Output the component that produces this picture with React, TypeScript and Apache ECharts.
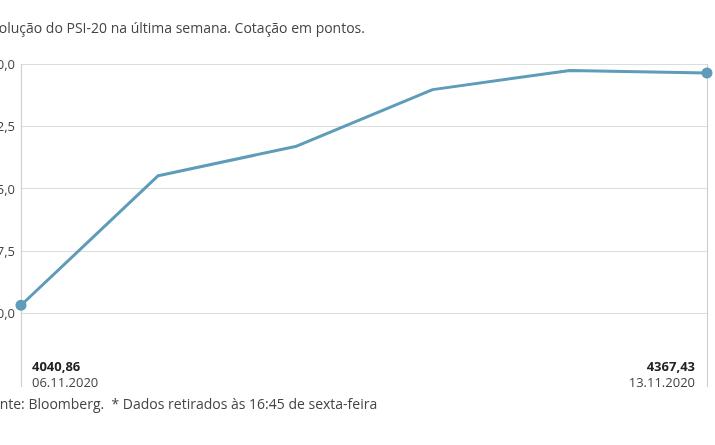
import * as echarts from 'echarts';
import { useEffect, useRef } from 'react';

const dates = ['06.11.2020', '09.11.2020', '10.11.2020', '11.11.2020', '12.11.2020', '13.11.2020'];
const values = [4040.86, 4223, 4264, 4344, 4371, 4367.43];
const yTicks = [4030, 4117.5, 4205, 4292.5, 4380];

const TITLE = 'Evolução do PSI-20 na última semana. Cotação em pontos.';
const SOURCE = 'Fonte: Bloomberg.  * Dados retirados às 16:45 de sexta-feira';

const LINE = '#5e9cb9';
const FONT = '"Open Sans", sans-serif';

const fmt = (v: number, d: number) => v.toFixed(d).replace('.', ',');

const App = () => {
  const chartRef = useRef<HTMLDivElement>(null);

  useEffect(() => {
    if (chartRef.current === null) return;
    const chart = echarts.init(chartRef.current, null, { renderer: 'svg' });
    const last = dates.length - 1;

    chart.setOption({
      animation: false,
      textStyle: { fontFamily: FONT },
      grid: {
        left: 21,
        right: 8,
        top: 64,
        bottom: 58,
        containLabel: false,
        outerBoundsMode: 'none',
      },
      graphic: [
        {
          type: 'text',
          left: -16,
          top: 20,
          style: { text: TITLE, fill: '#444', font: `14px ${FONT}` },
        },
        {
          type: 'text',
          left: -16,
          top: 396,
          style: { text: SOURCE, fill: '#444', font: `14px ${FONT}` },
        },
      ],
      xAxis: {
        type: 'category',
        data: dates,
        boundaryGap: false,
        axisLine: { show: false },
        axisTick: { show: false },
        splitLine: {
          show: true,
          interval: (i: number) => i === 0 || i === last,
          lineStyle: { color: '#cfcfcf', width: 1.2 },
        },
        axisLabel: {
          inside: true,
          margin: -3,
          interval: (i: number) => i === 0 || i === last,
          alignMinLabel: 'left',
          alignMaxLabel: 'right',
          padding: [0, 12, 0, 11],
          formatter: (v: string, i: number) => `{b|${fmt(values[i], 2)}}\n{d|${v}}`,
          rich: {
            b: { fontFamily: FONT, fontSize: 13, fontWeight: 'bold', color: '#222', lineHeight: 16 },
            d: { fontFamily: FONT, fontSize: 13, color: '#444', lineHeight: 16 },
          },
        },
      },
      yAxis: {
        type: 'value',
        min: 3926,
        max: 4380,
        axisLine: { show: false },
        axisTick: { show: false, customValues: yTicks },
        axisLabel: {
          customValues: yTicks,
          margin: 6,
          fontFamily: FONT,
          fontSize: 13,
          color: '#444',
          formatter: (v: number) => fmt(v, 1),
        },
        splitLine: { show: true, lineStyle: { color: '#dcdcdc', width: 1.2 } },
      },
      series: [
        {
          type: 'line',
          data: values,
          lineStyle: { color: LINE, width: 3 },
          itemStyle: { color: LINE },
          symbol: 'circle',
          symbolSize: (_v: number, p: { dataIndex: number }) =>
            p.dataIndex === 0 || p.dataIndex === last ? 11 : 0,
          showAllSymbol: true,
        },
      ],
    });

    return () => {
      chart.dispose();
    };
  }, []);

  return (
    <div style={{ position: 'fixed', left: 0, top: 0 }}>
      <div ref={chartRef} style={{ width: 715, height: 445 }}></div>
    </div>
  );
};

export default App;
